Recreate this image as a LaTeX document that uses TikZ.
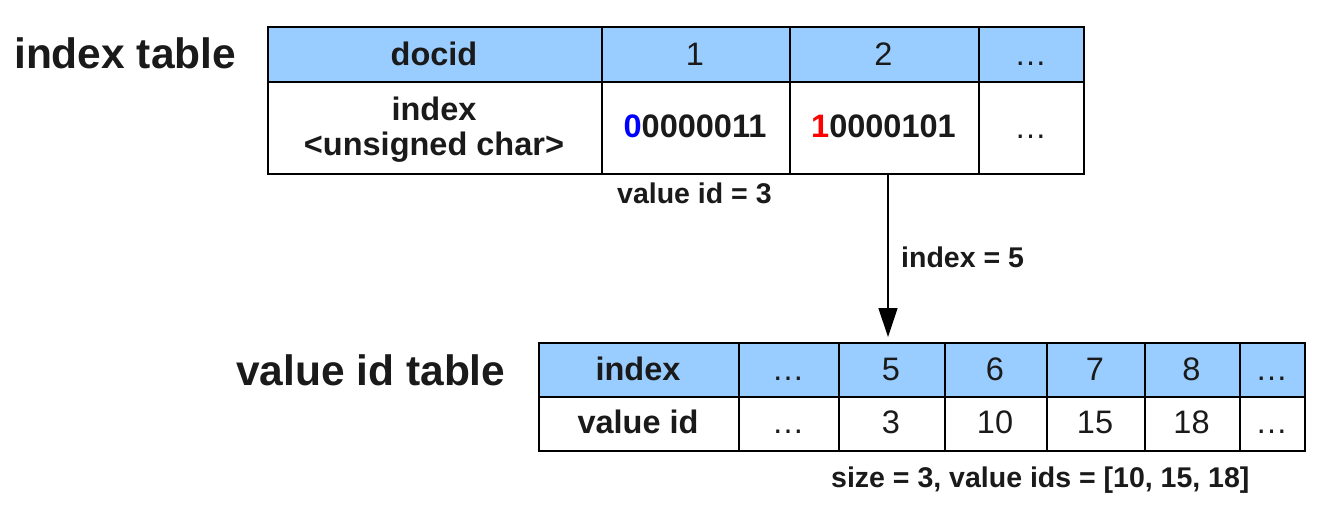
\documentclass[tikz,border=0pt]{standalone}
\usepackage{fontspec}
\setmainfont{Liberation Sans}
\usetikzlibrary{arrows.meta}
\definecolor{hdrblue}{HTML}{99CCFF}
\definecolor{ink}{HTML}{1A1A1A}
\definecolor{bitblue}{HTML}{0000FF}
\definecolor{bitred}{HTML}{FF0000}
\tikzset{
  cell/.style={draw=black, line width=1.5pt, inner sep=0pt, anchor=north west},
  hdr/.style={cell, fill=hdrblue},
  body/.style={cell, fill=white},
  txt/.style={anchor=base, inner sep=0pt, text=ink, font=\fontsize{32.5}{38}\selectfont},
  btxt/.style={txt, font=\fontsize{32.5}{38}\selectfont\bfseries},
  title/.style={anchor=base west, inner sep=0pt, text=ink, font=\fontsize{42.5}{50}\selectfont\bfseries},
  note/.style={anchor=base west, inner sep=0pt, text=ink, font=\fontsize{28.5}{34}\selectfont\bfseries},
  arrowline/.style={draw=black, line width=1.5pt, -{Triangle[width=19pt,length=29pt]}}
}
\begin{document}
\begin{tikzpicture}[x=1pt,y=-1pt]
\useasboundingbox[fill=white] (0,0) rectangle (1329,522);

% ---------- index table ----------
\node[title] (ttl1) at (14,68) {index table};

\node[hdr, minimum width=334pt, minimum height=55pt] (ih0) at (267,26) {};
\node[hdr, minimum width=188pt, minimum height=55pt] (ih1) at (601,26) {};
\node[hdr, minimum width=189pt, minimum height=55pt] (ih2) at (789,26) {};
\node[hdr, minimum width=105pt, minimum height=55pt] (ih3) at (978,26) {};
\node[body, minimum width=334pt, minimum height=92pt] (ib0) at (267,81) {};
\node[body, minimum width=188pt, minimum height=92pt] (ib1) at (601,81) {};
\node[body, minimum width=189pt, minimum height=92pt] (ib2) at (789,81) {};
\node[body, minimum width=105pt, minimum height=92pt] (ib3) at (978,81) {};

\node[btxt] (tih0) at (434,65) {docid};
\node[txt] (tih1) at (695,65) {1};
\node[txt] (tih2) at (883.5,65) {2};
\node[txt] (tih3) at (1030.5,65) {\dots};
\node[btxt] (tib0a) at (434,120) {index};
\node[btxt] (tib0b) at (434,155) {<unsigned char>};
\node[btxt] (tib1) at (695,137) {\textcolor{bitblue}{0}0000011};
\node[btxt] (tib2) at (883.5,137) {\textcolor{bitred}{1}0000101};
\node[txt] (tib3) at (1030.5,138) {\dots};

\node[note] (vid) at (617,203) {value id = 3};

% ---------- arrow ----------
\coordinate (astart) at (888,174);
\coordinate (aend) at (888,337);
\draw[arrowline] (astart) -- (aend);
\node[note] (idx5) at (901,267) {index = 5};

% ---------- value id table ----------
\node[title] (ttl2) at (236,385) {value id table};

\node[hdr, minimum width=200pt, minimum height=54pt] (vh0) at (538,342) {};
\node[hdr, minimum width=100pt, minimum height=54pt] (vh1) at (738,342) {};
\node[hdr, minimum width=106pt, minimum height=54pt] (vh2) at (838,342) {};
\node[hdr, minimum width=102pt, minimum height=54pt] (vh3) at (944,342) {};
\node[hdr, minimum width=98pt, minimum height=54pt] (vh4) at (1046,342) {};
\node[hdr, minimum width=95pt, minimum height=54pt] (vh5) at (1144,342) {};
\node[hdr, minimum width=65pt, minimum height=54pt] (vh6) at (1239,342) {};
\node[body, minimum width=200pt, minimum height=54pt] (vb0) at (538,396) {};
\node[body, minimum width=100pt, minimum height=54pt] (vb1) at (738,396) {};
\node[body, minimum width=106pt, minimum height=54pt] (vb2) at (838,396) {};
\node[body, minimum width=102pt, minimum height=54pt] (vb3) at (944,396) {};
\node[body, minimum width=98pt, minimum height=54pt] (vb4) at (1046,396) {};
\node[body, minimum width=95pt, minimum height=54pt] (vb5) at (1144,396) {};
\node[body, minimum width=65pt, minimum height=54pt] (vb6) at (1239,396) {};

\node[btxt] (tvh0) at (638,380) {index};
\node[txt] (tvh1) at (788,380) {\dots};
\node[txt] (tvh2) at (891,380) {5};
\node[txt] (tvh3) at (995,380) {6};
\node[txt] (tvh4) at (1095,380) {7};
\node[txt] (tvh5) at (1191.5,380) {8};
\node[txt] (tvh6) at (1271.5,380) {\dots};
\node[btxt] (tvb0) at (638,433) {value id};
\node[txt] (tvb1) at (788,433) {\dots};
\node[txt] (tvb2) at (891,433) {3};
\node[txt] (tvb3) at (995,433) {10};
\node[txt] (tvb4) at (1095,433) {15};
\node[txt] (tvb5) at (1191.5,433) {18};
\node[txt] (tvb6) at (1271.5,433) {\dots};

\node[note] (sz) at (831,487) {size = 3, value ids = [10, 15, 18]};
\end{tikzpicture}
\end{document}
